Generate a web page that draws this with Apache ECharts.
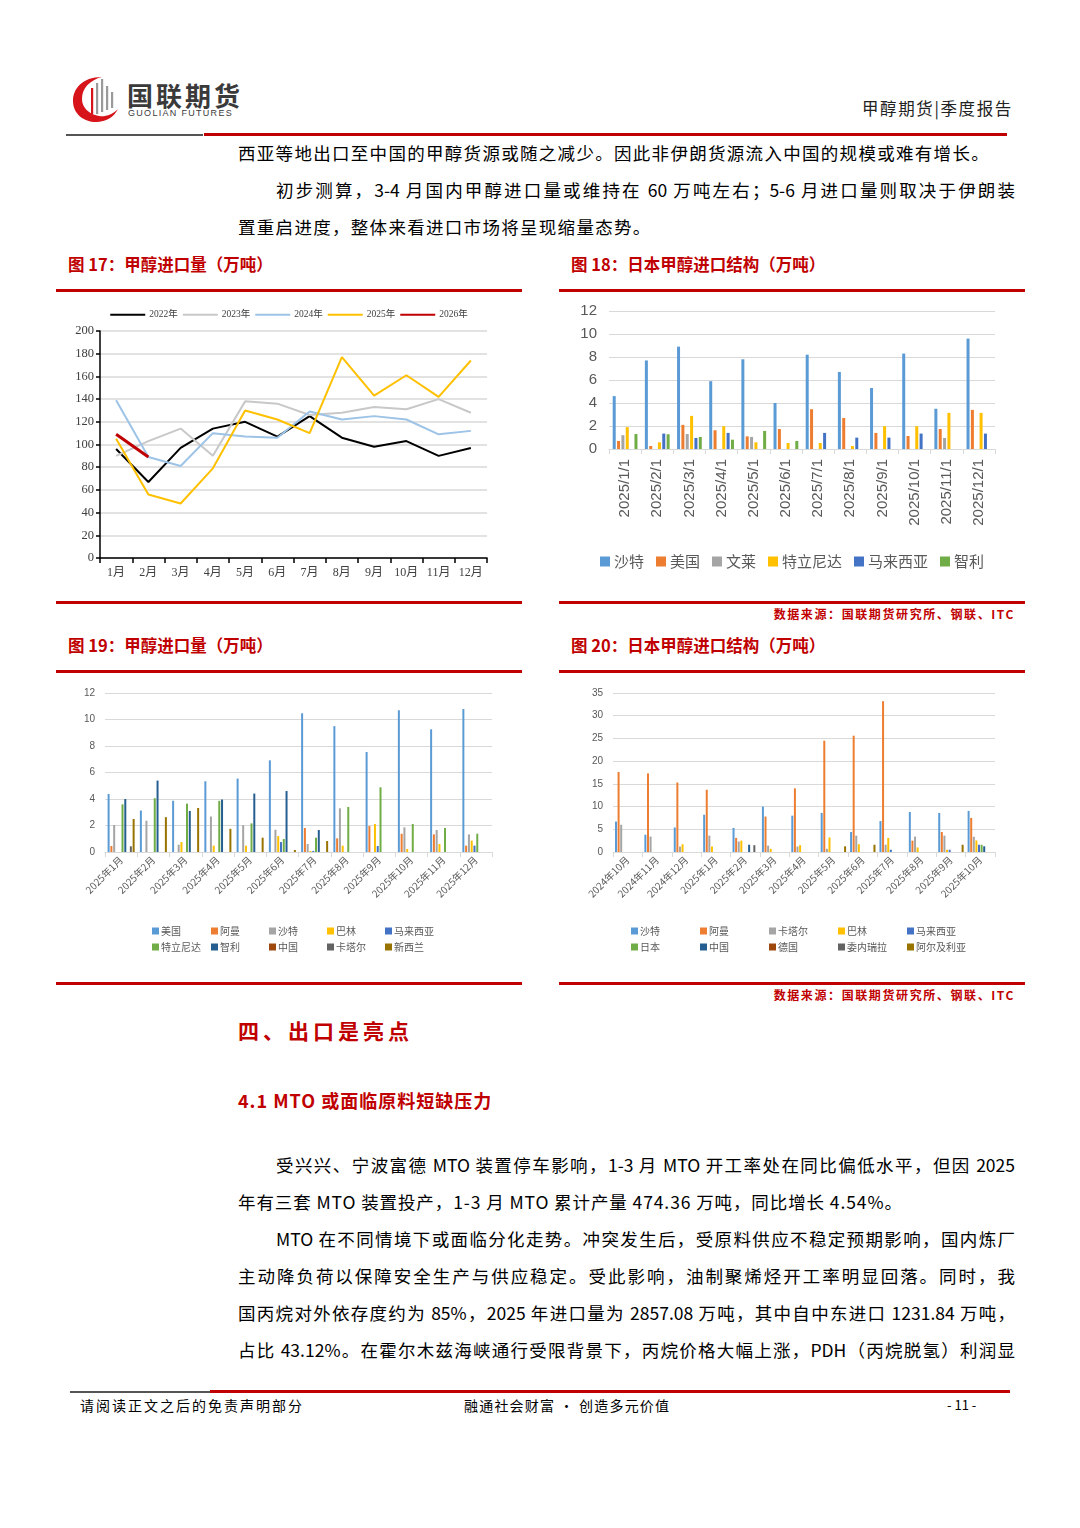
<!DOCTYPE html>
<html><head><meta charset="utf-8">
<script src="https://cdn.jsdelivr.net/npm/echarts@6/dist/echarts.min.js"></script>
<style>
html,body{margin:0;padding:0;background:#fff}
body{width:1080px;height:1528px;position:relative;overflow:hidden;font-family:"Noto Sans CJK SC",sans-serif;color:#000}
.a{position:absolute}
.t{position:absolute;font-size:17.5px;line-height:22px;white-space:nowrap;letter-spacing:1.3px}
.j{position:absolute;font-size:17.5px;line-height:22px;text-align:justify;text-align-last:justify;white-space:normal;overflow:hidden;height:22px}
.cap{position:absolute;font-size:16.5px;line-height:20px;color:#C00000;font-weight:bold;white-space:nowrap}
.src{position:absolute;right:65px;font-size:12px;line-height:14px;color:#C00000;font-weight:bold;letter-spacing:1.6px;white-space:nowrap}
.rl{position:absolute;height:3px;background:#C00000}
.ch{position:absolute;width:466px;height:305px}
</style></head>
<body>
<!-- header -->
<svg class="a" style="left:72px;top:74px" width="48" height="50" viewBox="0 0 48 50">
  <path d="M30 3 C10 3 1 15 1 27 C1 40 12 48 24 48 C34 48 42 43 46 35 C40 41 33 43 27 42 C16 40 10 33 10 25 C10 14 18 6 30 3 Z" fill="#D7141A"/>
  <rect x="19" y="14" width="2.2" height="26" fill="#D7141A"/>
  <rect x="24" y="9" width="2.2" height="31" fill="#9a9a9a"/>
  <rect x="29" y="5" width="2.2" height="33" fill="#9a9a9a"/>
  <rect x="34" y="12" width="2.2" height="24" fill="#9a9a9a"/>
  <rect x="39" y="18" width="2.2" height="16" fill="#9a9a9a"/>
</svg>
<div class="a" style="left:127px;top:80px;font-size:26px;line-height:30px;font-weight:bold;color:#3a3a3a;letter-spacing:3px;white-space:nowrap">国联期货</div>
<div class="a" style="left:128px;top:108px;font-size:9px;line-height:11px;color:#3a3a3a;letter-spacing:1.3px;white-space:nowrap;font-family:'Liberation Sans',sans-serif">GUOLIAN FUTURES</div>
<div class="a" style="left:862px;top:97px;font-size:16.5px;line-height:22px;color:#222;letter-spacing:1.6px;white-space:nowrap">甲醇期货|季度报告</div>
<div class="a" style="left:66px;top:134px;width:137px;height:2px;background:#555"></div>
<div class="a" style="left:204px;top:133px;width:803px;height:3px;background:#C00000"></div>

<div class="t" style="left:238px;top:142px">西亚等地出口至中国的甲醇货源或随之减少。因此非伊朗货源流入中国的规模或难有增长。</div>
<div class="j" style="left:276px;top:179px;width:739px">初步测算，3-4 月国内甲醇进口量或维持在 60 万吨左右；5-6 月进口量则取决于伊朗装</div>
<div class="t" style="left:238px;top:216px">置重启进度，整体来看进口市场将呈现缩量态势。</div>

<div class="cap" style="left:68px;top:254px">图 17：甲醇进口量（万吨）</div>
<div class="cap" style="left:571px;top:254px">图 18：日本甲醇进口结构（万吨）</div>
<div class="rl" style="left:56px;top:289px;width:466px"></div>
<div class="rl" style="left:559px;top:289px;width:466px"></div>
<div class="ch" id="c17" style="left:56px;top:295px"></div>
<div class="ch" id="c18" style="left:559px;top:295px"></div>
<div class="rl" style="left:56px;top:601px;width:466px"></div>
<div class="rl" style="left:559px;top:601px;width:466px"></div>
<div class="src" style="top:607px">数据来源：国联期货研究所、钢联、ITC</div>

<div class="cap" style="left:68px;top:635px">图 19：甲醇进口量（万吨）</div>
<div class="cap" style="left:571px;top:635px">图 20：日本甲醇进口结构（万吨）</div>
<div class="rl" style="left:56px;top:670px;width:466px"></div>
<div class="rl" style="left:559px;top:670px;width:466px"></div>
<div class="ch" id="c19" style="left:56px;top:675px"></div>
<div class="ch" id="c20" style="left:559px;top:675px"></div>
<div class="rl" style="left:56px;top:982px;width:466px"></div>
<div class="rl" style="left:559px;top:982px;width:466px"></div>
<div class="src" style="top:988px">数据来源：国联期货研究所、钢联、ITC</div>

<div class="a" style="left:238px;top:1017px;font-size:21px;line-height:26px;color:#C00000;font-weight:bold;letter-spacing:4px;white-space:nowrap">四、出口是亮点</div>
<div class="a" style="left:238px;top:1088px;font-size:18px;line-height:24px;color:#C00000;font-weight:bold;letter-spacing:1px;white-space:nowrap">4.1 MTO 或面临原料短缺压力</div>

<div class="j" style="left:276px;top:1154px;width:739px">受兴兴、宁波富德 MTO 装置停车影响，1-3 月 MTO 开工率处在同比偏低水平，但因 2025</div>
<div class="t" style="left:238px;top:1191px;letter-spacing:0.9px">年有三套 MTO 装置投产，1-3 月 MTO 累计产量 474.36 万吨，同比增长 4.54%。</div>
<div class="j" style="left:276px;top:1228px;width:739px">MTO 在不同情境下或面临分化走势。冲突发生后，受原料供应不稳定预期影响，国内炼厂</div>
<div class="j" style="left:238px;top:1265px;width:777px">主动降负荷以保障安全生产与供应稳定。受此影响，油制聚烯烃开工率明显回落。同时，我</div>
<div class="j" style="left:238px;top:1302px;width:777px">国丙烷对外依存度约为 85%，2025 年进口量为 2857.08 万吨，其中自中东进口 1231.84 万吨，</div>
<div class="j" style="left:238px;top:1339px;width:777px">占比 43.12%。在霍尔木兹海峡通行受限背景下，丙烷价格大幅上涨，PDH（丙烷脱氢）利润显</div>

<!-- footer -->
<div class="a" style="left:70px;top:1391px;width:140px;height:2px;background:#555"></div>
<div class="a" style="left:210px;top:1390px;width:800px;height:3px;background:#C00000"></div>
<div class="a" style="left:80px;top:1396px;font-size:14px;line-height:18px;letter-spacing:2px;white-space:nowrap">请阅读正文之后的免责声明部分</div>
<div class="a" style="left:464px;top:1396px;font-size:14px;line-height:18px;letter-spacing:1.2px;white-space:nowrap">融通社会财富 · 创造多元价值</div>
<div class="a" style="left:947px;top:1396px;font-size:13px;line-height:18px;white-space:nowrap">- 11 -</div>

<script>
// ---------- Data ----------
const months17 = ['1月','2月','3月','4月','5月','6月','7月','8月','9月','10月','11月','12月'];
const y2022 = [96, 67, 97, 114, 120, 107, 125, 106, 98, 103, 90, 97];
const y2023 = [90, 103, 114, 90, 138, 136, 126, 128, 133, 131, 140, 128];
const y2024 = [139, 89, 81, 110, 107, 106, 129, 122, 125, 122, 109, 112];
const y2025 = [105, 56, 48, 79, 130, 122, 110, 177, 143, 161, 142, 174];
const y2026 = [109, 89];

const cats18 = ['2025/1/1','2025/2/1','2025/3/1','2025/4/1','2025/5/1','2025/6/1','2025/7/1','2025/8/1','2025/9/1','2025/10/1','2025/11/1','2025/12/1'];
const saudi18  = [4.6, 7.7, 8.9, 5.9, 7.8, 4.0, 8.2, 6.7, 5.3, 8.3, 3.5, 9.6];
const us18     = [0.7, 0.26, 2.1, 1.63, 1.1, 1.74, 3.46, 2.7, 1.4, 1.13, 1.74, 3.4];
const brunei18 = [1.2, null, 1.3, null, 1.05, null, null, null, null, null, 0.96, null];
const trin18   = [1.9, 0.58, 2.88, 1.98, 0.58, 0.52, 0.52, 0.26, 1.98, 1.98, 3.14, 3.14];
const malay18  = [null, 1.34, 0.96, 1.4, null, null, 1.4, 0.99, 0.99, 1.34, null, 1.34];
const chile18  = [1.3, 1.28, 1.05, 0.81, 1.57, 0.7, null, null, null, null, null, null];

const cats19 = ['2025年1月','2025年2月','2025年3月','2025年4月','2025年5月','2025年6月','2025年7月','2025年8月','2025年9月','2025年10月','2025年11月','2025年12月'];
const us19      = [4.38, 3.13, 3.87, 5.34, 5.54, 6.92, 10.47, 9.5, 7.55, 10.7, 9.26, 10.79];
const oman19    = [0.45, null, null, null, null, null, 1.81, 1.03, 1.96, 1.38, 1.33, 0.48];
const saudi19   = [2.04, 2.36, 0.55, 2.68, 2.03, 1.68, 0.6, 3.3, null, 1.86, 1.66, 1.33];
const bahrain19 = [null, null, 0.75, 0.48, 0.48, 1.2, 0.08, 0.48, 2.11, 0.23, 0.6, 0.86];
const malay19   = [null, null, null, null, null, 0.75, 0.08, null, 0.45, null, null, 0.48];
const trin19    = [3.6, 4.06, 3.65, 3.86, 2.16, 0.98, 1.08, 3.4, 4.88, 2.11, 1.81, 1.38];
const chile19   = [4.0, 5.39, 3.1, 3.96, 4.41, 4.6, 1.66, null, null, null, null, null];
const china19   = [null, null, null, null, null, null, null, null, null, null, null, null];
const qatar19   = [0.43, null, null, null, null, null, null, null, null, null, null, null];
const nz19      = [2.49, 2.63, 3.32, 1.75, 1.08, 0.15, 0.83, null, null, null, null, null];

const cats20 = ['2024年10月','2024年11月','2024年12月','2025年1月','2025年2月','2025年3月','2025年4月','2025年5月','2025年6月','2025年7月','2025年8月','2025年9月','2025年10月'];
const saudi20   = [6.7, 3.8, 5.4, 8.2, 5.3, 10.0, 8.0, 8.6, 4.4, 6.8, 8.8, 8.6, 9.05];
const oman20    = [17.6, 17.3, 15.3, 13.7, 3.1, 7.8, 14.0, 24.5, 25.6, 33.2, 2.5, 4.4, 7.5];
const qatar20   = [6.0, 3.4, 1.2, 3.6, 2.3, 1.4, 1.2, 0.7, 3.6, 1.6, 3.4, 3.6, 3.35];
const bahrain20 = [null, null, 1.7, 1.2, 2.5, 0.7, 1.5, 3.2, 1.7, 3.1, 1.0, 0.5, 2.55];
const malay20   = [null, null, null, null, null, null, null, null, null, 0.5, null, 0.5, 1.6];
const japan20   = [null, null, null, null, null, null, null, null, null, null, null, null, 1.6];
const china20   = [null, null, null, null, 1.6, null, null, null, null, null, null, null, 1.25];
const germany20 = [null, null, null, null, null, null, null, null, null, null, null, null, null];
const venez20   = [null, null, null, null, 1.5, null, null, null, null, null, null, null, null];
const alg20     = [null, null, null, null, null, null, null, 1.25, 1.6, null, null, 1.6, null];

// ---------- Styles ----------
const PAL = {blue:'#5B9BD5', orange:'#ED7D31', gray:'#A5A5A5', yellow:'#FFC000', dblue:'#4472C4', green:'#70AD47', navy:'#255E91', brown:'#9E480E', dgray:'#636363', olive:'#997300'};
const CJK = '"Noto Sans CJK SC", sans-serif';

// ---------- Chart 17 ----------
(function(){
  const ch = echarts.init(document.getElementById('c17'), null, {renderer:'canvas'});
  const lines = [
    {name:'2022年', data:y2022, color:'#000000', w:2},
    {name:'2023年', data:y2023, color:'#C8C8C8', w:2},
    {name:'2024年', data:y2024, color:'#9DC3E6', w:2},
    {name:'2025年', data:y2025, color:'#FFC000', w:2},
    {name:'2026年', data:y2026, color:'#C00000', w:3}
  ];
  ch.setOption({
    animation:false,
    legend:{top:10, left:'center', itemWidth:35, itemHeight:2, itemGap:5, icon:'rect',
      textStyle:{fontSize:9.5, color:'#404040', fontFamily:'"Liberation Serif", '+CJK, padding:[0,0,0,-1]},
      data:lines.map(l=>({name:l.name, itemStyle:{color:l.color}}))},
    grid:{left:44, right:35, top:36, bottom:42},
    xAxis:{type:'category', data:months17, boundaryGap:true,
      axisLine:{lineStyle:{color:'#000', width:1.5}},
      axisTick:{show:true, length:5, lineStyle:{color:'#000', width:1.5}},
      axisLabel:{interval:0, fontSize:12, color:'#404040', margin:9, fontFamily:'"Liberation Serif", '+CJK}},
    yAxis:{type:'value', min:0, max:200, interval:20,
      axisLine:{show:true, lineStyle:{color:'#000', width:1.5}},
      axisTick:{show:true, length:4, lineStyle:{color:'#000', width:1.5}},
      axisLabel:{fontSize:12.5, color:'#404040', margin:6, fontFamily:'"Liberation Serif", serif'},
      splitLine:{lineStyle:{color:'#D9D9D9', width:1.5}}},
    series:lines.map(l=>({name:l.name, type:'line', data:l.data, symbol:'none', smooth:false,
      lineStyle:{color:l.color, width:l.w}, itemStyle:{color:l.color}}))
  });
})();

// ---------- Chart 18 ----------
(function(){
  const ch = echarts.init(document.getElementById('c18'));
  const ser = [
    ['沙特', saudi18, PAL.blue], ['美国', us18, PAL.orange], ['文莱', brunei18, PAL.gray],
    ['特立尼达', trin18, PAL.yellow], ['马来西亚', malay18, PAL.dblue], ['智利', chile18, PAL.green]
  ];
  ch.setOption({
    animation:false,
    legend:{top:254, left:'center', itemWidth:10, itemHeight:10, itemGap:12, icon:'rect',
      textStyle:{fontSize:15, color:'#595959', fontFamily:CJK, padding:[0,0,0,-1]}},
    grid:{left:50, right:30, top:16, bottom:151},
    xAxis:{type:'category', data:cats18,
      axisLine:{lineStyle:{color:'#D9D9D9', width:1}},
      axisTick:{show:true, length:5, lineStyle:{color:'#D9D9D9'}},
      axisLabel:{rotate:90, fontSize:15, color:'#595959', margin:10, fontFamily:'"Liberation Sans", sans-serif'}},
    yAxis:{type:'value', min:0, max:12, interval:2,
      axisLine:{show:false}, axisTick:{show:false},
      axisLabel:{fontSize:15, color:'#595959', margin:12, fontFamily:'"Liberation Sans", sans-serif'},
      splitLine:{lineStyle:{color:'#D9D9D9', width:1}}},
    series:ser.map(s=>({name:s[0], type:'bar', data:s[1], barWidth:3, barGap:'45%', itemStyle:{color:s[2]}}))
  });
})();

function multiLegend(names, colors, xs, tops){
  return names.map((n,i)=>({
    data:[{name:n, itemStyle:{color:colors[i]}}], left:xs[i%5], top:tops[Math.floor(i/5)],
    itemWidth:7, itemHeight:7, icon:'rect', itemGap:0,
    textStyle:{fontSize:10, color:'#595959', fontFamily:CJK, padding:[0,0,0,-3]}
  }));
}

// ---------- Chart 19 ----------
(function(){
  const ch = echarts.init(document.getElementById('c19'));
  const names = ['美国','阿曼','沙特','巴林','马来西亚','特立尼达','智利','中国','卡塔尔','新西兰'];
  const datas = [us19, oman19, saudi19, bahrain19, malay19, trin19, chile19, china19, qatar19, nz19];
  const colors = [PAL.blue, PAL.orange, PAL.gray, PAL.yellow, PAL.dblue, PAL.green, PAL.navy, PAL.brown, PAL.dgray, PAL.olive];
  ch.setOption({
    animation:false,
    legend:multiLegend(names, colors, [91,150,208,266,324], [246,262]),
    grid:{left:49, right:30, top:18, bottom:128},
    xAxis:{type:'category', data:cats19,
      axisLine:{lineStyle:{color:'#D9D9D9'}},
      axisTick:{show:true, length:5, lineStyle:{color:'#D9D9D9'}},
      axisLabel:{rotate:45, fontSize:10, color:'#595959', margin:6, fontFamily:CJK}},
    yAxis:{type:'value', min:0, max:12, interval:2,
      axisLine:{show:false}, axisTick:{show:false},
      axisLabel:{fontSize:10, color:'#595959', margin:10, fontFamily:'"Liberation Sans", sans-serif'},
      splitLine:{lineStyle:{color:'#D9D9D9', width:1}}},
    series:names.map((n,i)=>({name:n, type:'bar', data:datas[i], barWidth:2, barGap:'39%', itemStyle:{color:colors[i]}}))
  });
})();

// ---------- Chart 20 ----------
(function(){
  const ch = echarts.init(document.getElementById('c20'));
  const names = ['沙特','阿曼','卡塔尔','巴林','马来西亚','日本','中国','德国','委内瑞拉','阿尔及利亚'];
  const datas = [saudi20, oman20, qatar20, bahrain20, malay20, japan20, china20, germany20, venez20, alg20];
  const colors = [PAL.blue, PAL.orange, PAL.gray, PAL.yellow, PAL.dblue, PAL.green, PAL.navy, PAL.brown, PAL.dgray, PAL.olive];
  ch.setOption({
    animation:false,
    legend:multiLegend(names, colors, [67,136,205,274,343], [246,262]),
    grid:{left:54, right:30, top:18, bottom:128},
    xAxis:{type:'category', data:cats20,
      axisLine:{lineStyle:{color:'#D9D9D9'}},
      axisTick:{show:true, length:5, lineStyle:{color:'#D9D9D9'}},
      axisLabel:{rotate:45, fontSize:10, color:'#595959', margin:6, fontFamily:CJK}},
    yAxis:{type:'value', min:0, max:35, interval:5,
      axisLine:{show:false}, axisTick:{show:false},
      axisLabel:{fontSize:10, color:'#595959', margin:10, fontFamily:'"Liberation Sans", sans-serif'},
      splitLine:{lineStyle:{color:'#D9D9D9', width:1}}},
    series:names.map((n,i)=>({name:n, type:'bar', data:datas[i], barWidth:2, barGap:'30%', itemStyle:{color:colors[i]}}))
  });
})();
</script>
</body></html>
